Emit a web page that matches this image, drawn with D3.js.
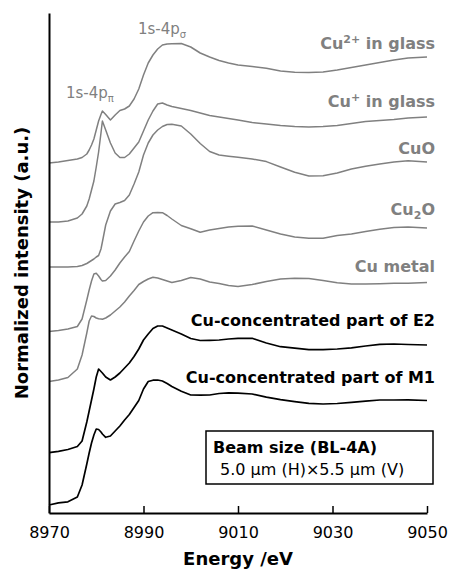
<!DOCTYPE html>
<html>
<head>
<meta charset="utf-8">
<script src="https://cdn.jsdelivr.net/npm/d3@7"></script>
<style>
  html, body { margin: 0; padding: 0; background: #fff; }
  svg { display: block; }
  text { font-family: "DejaVu Sans", Verdana, sans-serif; }
</style>
</head>
<body>
<svg id="chart" width="449" height="571"></svg>
<script>
// ---- data ----
const energy = [8970, 8972, 8974, 8976, 8977, 8978, 8978.5, 8979, 8979.5, 8980, 8980.5, 8981, 8981.3, 8982,
  8983, 8984, 8985, 8986, 8987, 8988, 8989, 8990, 8991, 8992, 8993, 8994, 8995, 8996, 8998, 9000,
  9002, 9004, 9006, 9008, 9010, 9013, 9016, 9019, 9022, 9025, 9028, 9031, 9034, 9037, 9040, 9043, 9046, 9050];

const cu2Glass = [0, 0.01, 0.025, 0.04, 0.055, 0.09, 0.13, 0.18, 0.24, 0.33, 0.42, 0.485, 0.52, 0.485,
  0.43, 0.48, 0.525, 0.54, 0.57, 0.64, 0.74, 0.88, 1.00, 1.08, 1.14, 1.18, 1.19, 1.193, 1.195, 1.16,
  1.10, 1.06, 1.025, 1.00, 0.98, 0.965, 0.947, 0.92, 0.907, 0.905, 0.91, 0.93, 0.955, 0.98, 1.005, 1.03, 1.05, 1.06];

const cu1Glass = [0, 0, 0.01, 0.04, 0.08, 0.16, 0.23, 0.32, 0.41, 0.55, 0.70, 0.89, 1.01, 0.92,
  0.79, 0.69, 0.645, 0.645, 0.68, 0.74, 0.80, 0.91, 1.02, 1.11, 1.18, 1.19, 1.17, 1.155, 1.135, 1.115,
  1.09, 1.065, 1.05, 1.035, 1.02, 0.995, 0.98, 0.965, 0.955, 0.95, 0.955, 0.965, 0.985, 1.005, 1.015, 1.025, 1.04, 1.05];

const cuO = [0, 0, 0, 0.005, 0.015, 0.035, 0.05, 0.065, 0.08, 0.10, 0.115, 0.18, 0.25, 0.42,
  0.56, 0.63, 0.645, 0.665, 0.72, 0.83, 0.95, 1.12, 1.24, 1.32, 1.37, 1.405, 1.425, 1.427, 1.41, 1.33,
  1.235, 1.155, 1.12, 1.108, 1.097, 1.08, 1.054, 1.00, 0.947, 0.91, 0.913, 0.94, 0.98, 1.008, 1.03, 1.05, 1.062, 1.05];

const cu2O = [0, 0.01, 0.025, 0.05, 0.125, 0.315, 0.415, 0.505, 0.575, 0.582, 0.555, 0.52, 0.505, 0.51,
  0.555, 0.615, 0.685, 0.745, 0.80, 0.905, 1.005, 1.095, 1.155, 1.188, 1.19, 1.188, 1.16, 1.125, 1.06, 1.028,
  0.992, 1.015, 1.03, 1.045, 1.052, 1.055, 1.015, 0.975, 0.945, 0.932, 0.932, 0.96, 0.975, 1.00, 1.022, 1.04, 1.046, 1.035];

const cuMetal = [0, 0.015, 0.04, 0.125, 0.265, 0.485, 0.605, 0.655, 0.65, 0.635, 0.628, 0.625, 0.623, 0.635,
  0.665, 0.705, 0.745, 0.795, 0.855, 0.91, 0.97, 1.00, 1.025, 1.042, 1.035, 1.02, 1.005, 0.99, 1.01, 1.04,
  1.025, 0.995, 0.98, 0.96, 0.95, 0.97, 1.00, 1.025, 1.032, 1.029, 1.01, 0.988, 0.975, 0.975, 0.978, 0.982, 0.982, 0.99];

const partE2 = [0, 0.014, 0.032, 0.062, 0.117, 0.307, 0.417, 0.527, 0.637, 0.757, 0.837, 0.812, 0.797, 0.757,
  0.727, 0.757, 0.797, 0.847, 0.897, 0.962, 1.037, 1.127, 1.187, 1.242, 1.267, 1.267, 1.247, 1.227, 1.187, 1.142,
  1.122, 1.124, 1.127, 1.137, 1.144, 1.144, 1.097, 1.06, 1.045, 1.031, 1.031, 1.037, 1.049, 1.067, 1.084, 1.087, 1.082, 1.077];

const partM1 = [0, 0.022, 0.032, 0.08, 0.20, 0.41, 0.52, 0.62, 0.70, 0.76, 0.755, 0.73, 0.71, 0.677,
  0.69, 0.74, 0.79, 0.85, 0.905, 0.975, 1.045, 1.16, 1.235, 1.248, 1.25, 1.24, 1.215, 1.185, 1.137, 1.10,
  1.098, 1.10, 1.115, 1.122, 1.118, 1.11, 1.078, 1.053, 1.033, 1.016, 1.01, 1.015, 1.026, 1.038, 1.05, 1.05, 1.052, 1.045];

// label pieces: [text, role] where role is "n" normal, "sup" superscript, "sub" subscript
const seriesLabels = [
  [["Cu", "n"], ["2+", "sup"], [" in glass", "n"]],
  [["Cu", "n"], ["+", "sup"], [" in glass", "n"]],
  [["CuO", "n"]],
  [["Cu", "n"], ["2", "sub"], ["O", "n"]],
  [["Cu metal", "n"]],
  [["Cu-concentrated part of E2", "n"]],
  [["Cu-concentrated part of M1", "n"]]
];
const seriesOffsets = [3.50, 2.91, 2.46, 1.815, 1.315, 0.603, 0.08];
const seriesKinds = ["ref", "ref", "ref", "ref", "ref", "sample", "sample"];
const xTickValues = [8970, 8990, 9010, 9030, 9050];

// ---- layout ----
const plot = { left: 49, right: 427, top: 13, bottom: 513 };
const labelBaselines = [49, 107, 154, 215, 272, 326, 383];
const grayColor = "#808080";

const svg = d3.select("#chart");
const x = d3.scaleLinear().domain([8970, 9050]).range([plot.left, plot.right]);
const y = d3.scaleLinear().domain([0, 5]).range([plot.bottom, plot.top]);

const allSeries = [cu2Glass, cu1Glass, cuO, cu2O, cuMetal, partE2, partM1];

const line = d3.line()
  .x(d => x(d[0]))
  .y(d => y(d[1]));

allSeries.forEach((vals, i) => {
  const pts = energy.map((e, k) => [e, vals[k] + seriesOffsets[i]]);
  const isSample = seriesKinds[i] === "sample";
  svg.append("path")
    .datum(pts)
    .attr("fill", "none")
    .attr("stroke", isSample ? "#000" : grayColor)
    .attr("stroke-width", isSample ? 1.7 : 1.5)
    .attr("stroke-linejoin", "round")
    .attr("d", line);

  const t = svg.append("text")
    .attr("x", 435)
    .attr("y", labelBaselines[i])
    .attr("text-anchor", "end")
    .attr("font-size", 16)
    .attr("font-weight", "bold")
    .attr("fill", isSample ? "#000" : grayColor);
  let shift = 0;
  seriesLabels[i].forEach(([txt, role]) => {
    const target = role === "sup" ? -6 : role === "sub" ? 4 : 0;
    const ts = t.append("tspan").attr("dy", target - shift).text(txt);
    if (role !== "n") ts.attr("font-size", 11);
    shift = target;
  });
});

// ---- axes ----
const xAxis = d3.axisBottom(x)
  .tickValues(xTickValues)
  .tickFormat(d3.format("d"))
  .tickSizeInner(-7)
  .tickSizeOuter(0)
  .tickPadding(14);

const gx = svg.append("g")
  .attr("transform", `translate(0,${plot.bottom})`)
  .call(xAxis);
gx.select(".domain").attr("stroke", "#000").attr("stroke-width", 2);
gx.selectAll(".tick line").attr("stroke", "#000").attr("stroke-width", 1.5);
gx.selectAll(".tick text")
  .attr("font-family", "DejaVu Sans, Verdana, sans-serif")
  .attr("font-size", 16)
  .attr("fill", "#000");

const yAxis = d3.axisLeft(y).tickValues([]).tickSizeOuter(0);
const gy = svg.append("g")
  .attr("transform", `translate(${plot.left},0)`)
  .call(yAxis);
gy.select(".domain").attr("stroke", "#000").attr("stroke-width", 2);

// axis titles
svg.append("text")
  .attr("x", (plot.left + plot.right) / 2)
  .attr("y", 565)
  .attr("text-anchor", "middle")
  .attr("font-size", 18)
  .attr("font-weight", "bold")
  .text("Energy /eV");

svg.append("text")
  .attr("transform", `translate(28,${(plot.top + plot.bottom) / 2}) rotate(-90)`)
  .attr("text-anchor", "middle")
  .attr("font-size", 18)
  .attr("font-weight", "bold")
  .text("Normalized intensity (a.u.)");

// ---- peak annotations ----
function annot(xp, yp, sub) {
  const t = svg.append("text")
    .attr("x", xp).attr("y", yp)
    .attr("font-size", 15)
    .attr("fill", grayColor);
  t.append("tspan").text("1s-4p");
  t.append("tspan").attr("font-size", 10).attr("dy", 4).text(sub);
}
annot(66, 98, "\u03C0");
annot(138, 34, "\u03C3");

// ---- beam size box ----
svg.append("rect")
  .attr("x", 206).attr("y", 431)
  .attr("width", 227).attr("height", 53)
  .attr("fill", "#fff")
  .attr("stroke", "#000")
  .attr("stroke-width", 1.5);
svg.append("text")
  .attr("x", 213).attr("y", 453)
  .attr("font-size", 16)
  .attr("font-weight", "bold")
  .text("Beam size (BL-4A)");
svg.append("text")
  .attr("x", 220).attr("y", 475)
  .attr("font-size", 16)
  .text("5.0 \u03BCm (H)\u00D75.5 \u03BCm (V)");
</script>
</body>
</html>
